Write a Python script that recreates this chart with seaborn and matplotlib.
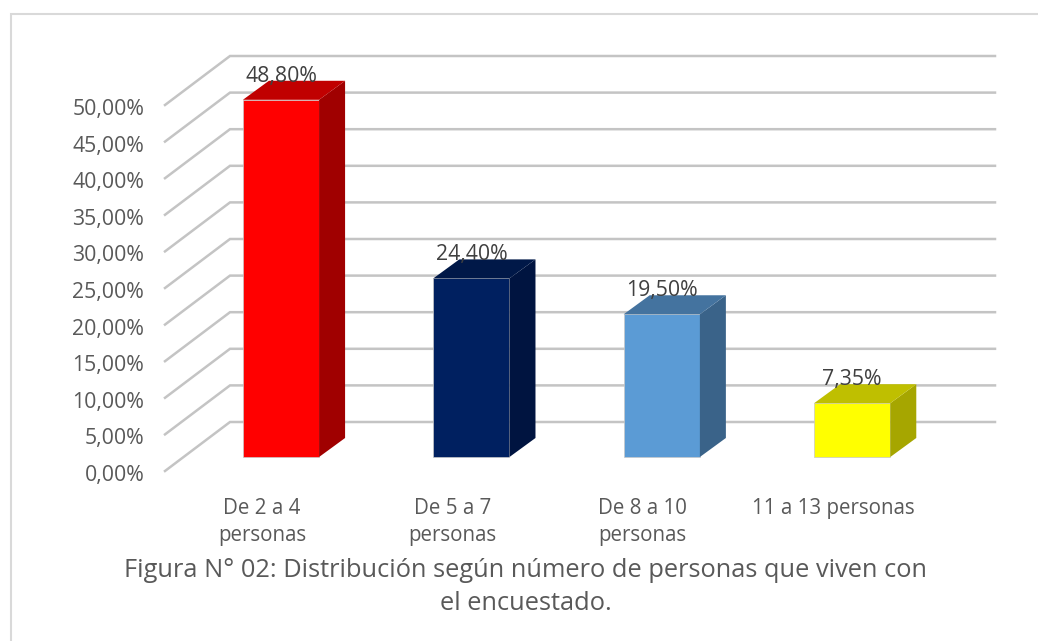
import matplotlib
matplotlib.use('Agg')
import matplotlib.pyplot as plt
from matplotlib.lines import Line2D
from matplotlib.patches import Polygon
import pandas as pd
import seaborn as sns

# Chart data
categorias = ['De 2 a 4\npersonas', 'De 5 a 7\npersonas', 'De 8 a 10\npersonas', '11 a 13 personas']
valores = [48.80, 24.40, 19.50, 7.35]
etiquetas = ['48,80%', '24,40%', '19,50%', '7,35%']
colores = ['#FF0000', '#002060', '#5B9BD5', '#FFFF00']
colores_tapa = ['#C00000', '#001848', '#44739F', '#BFBF00']
colores_lado = ['#A00000', '#001440', '#3A6389', '#A6A600']
ticks = [0, 5, 10, 15, 20, 25, 30, 35, 40, 45, 50]
tick_labels = ['0,00%', '5,00%', '10,00%', '15,00%', '20,00%', '25,00%',
               '30,00%', '35,00%', '40,00%', '45,00%', '50,00%']
titulo = 'Figura N° 02: Distribución según número de personas que viven con\nel encuestado.'

W, H = 1038, 641
plt.rcParams['font.family'] = ['Open Sans', 'DejaVu Sans']

df = pd.DataFrame({'categoria': categorias, 'valor': valores})

fig = plt.figure(figsize=(W / 100, H / 100), dpi=100)
fig.patch.set_facecolor('white')

# Axes span from the front-left floor corner to the top of the wall
# (bottom has room for the lowest tick label, which sits under the line end)
left, right, top, bottom = 165, 995, 40, 475
ax = fig.add_axes([left / W, 1 - bottom / H, (right - left) / W, (bottom - top) / H])

# scales: 190.4 px per category, 7.32 px per percent, bar base at y=457
px_x, px_y = 190.4, 7.32

sns.barplot(data=df, x='categoria', y='valor', hue='categoria', palette=colores,
            width=0.4, legend=False, ax=ax, zorder=3, saturation=1,
            edgecolor='#c8c8c8', linewidth=0.5)

# depth of the fake 3D box
dx, dy = 26 / px_x, 19 / px_y
suelo_y = (457 - 471) / px_y
pared_dx, pared_dy = 65 / px_x, 49 / px_y
x0 = (left - 281) / px_x

# walls with grid lines
for t in ticks:
    y = suelo_y + t
    ax.plot([x0, x0 + pared_dx, (right - 281) / px_x], [y, y + pared_dy, y + pared_dy],
            color='#c4c4c4', lw=1.8, zorder=1, clip_on=False, solid_joinstyle='miter')

# side and top faces of each box, plus labels
for i, (v, c_top, c_side) in enumerate(zip(valores, colores_tapa, colores_lado)):
    l, r = i - 0.2, i + 0.2
    ax.add_patch(Polygon([(r, 0), (r + dx, dy), (r + dx, v + dy), (r, v)], closed=True,
                         facecolor=c_side, edgecolor='none', zorder=3))
    ax.add_patch(Polygon([(l, v), (l + dx, v + dy), (r + dx, v + dy), (r, v)], closed=True,
                         facecolor=c_top, edgecolor='none', zorder=3))
    ax.text(i, v + 3.2, etiquetas[i], ha='center', va='center', fontsize=15.3,
            color='#404040', zorder=5)

# tick labels sit on the front plane, a bit left of the bars and under the line ends
ax.set_yticks([suelo_y - 2 / px_y + t for t in ticks])
ax.set_yticklabels(tick_labels, fontsize=15.3, color='#595959')
ax.set_xticks([i - 19 / px_x for i in range(len(categorias))])
ax.set_xticklabels(categorias, linespacing=1.37)
ax.tick_params(axis='y', length=0, pad=15)
ax.tick_params(axis='x', length=0, pad=16.5, labelsize=14.8, labelcolor='#595959')
ax.set_xlabel('')
ax.set_ylabel('')
ax.set_xlim((left - 281) / px_x, (right - 281) / px_x)
ax.set_ylim((457 - bottom) / px_y, (457 - top) / px_y)
ax.patch.set_alpha(0)
for s in ax.spines.values():
    s.set_visible(False)

# caption and the frame (only its top and left edges are in the picture)
fig.text(526 / W, 1 - 558 / H, titulo, ha='center', va='top', fontsize=18.3,
         color='#595959', linespacing=1.44)
fig.add_artist(Line2D([10.5 / W, 10.5 / W, 1], [0, 1 - 14 / H, 1 - 14 / H],
                      transform=fig.transFigure, color='#d9d9d9', lw=1.5,
                      solid_joinstyle='miter'))

fig.savefig('out.png', dpi=100)
